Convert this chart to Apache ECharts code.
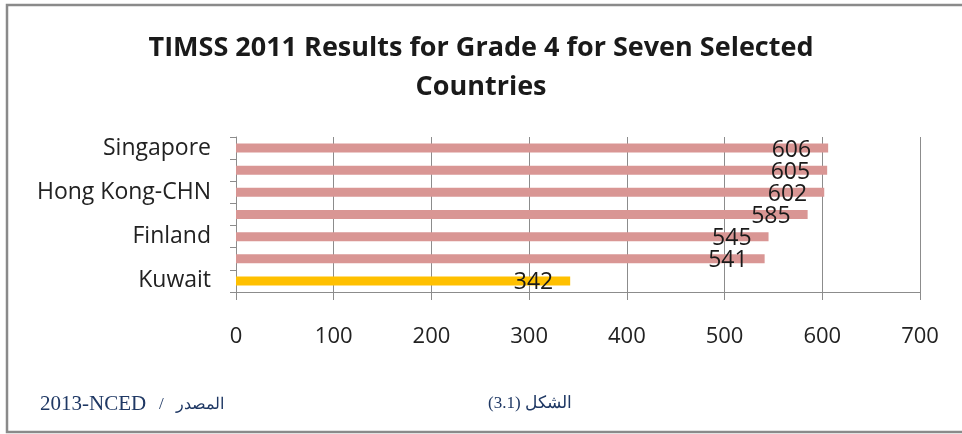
<html>
<head>
<meta charset="utf-8">
<script src="https://cdn.jsdelivr.net/npm/echarts@6/dist/echarts.min.js"></script>
<style>
  body { margin: 0; background: #fff; }
  #container { width: 962px; height: 434px; }
</style>
</head>
<body>
<div id="container"></div>
<script type="text/javascript">
// countries top to bottom, scores as labelled on the bars
var countries = ['Singapore', 'Korea, Rep. of', 'Hong Kong-CHN', 'Japan', 'Finland', 'United States', 'Kuwait'];
var scores = [606, 605, 602, 585, 545, 541, 342];
var highlight = 'Kuwait';
var xTicks = [0, 100, 200, 300, 400, 500, 600, 700];

var font = '"Open Sans", Lato, sans-serif';
var serif = '"Liberation Serif", "DejaVu Serif", serif';
var chart = echarts.init(document.getElementById('container'), null, {renderer: 'canvas'});

var barData = scores.map(function (v, i) {
    return {
        value: v,
        itemStyle: { color: countries[i] == highlight ? '#FFC000' : '#D99694' }
    };
});

var option = {
    animation: false,
    backgroundColor: '#fff',
    title: {
        text: 'TIMSS 2011 Results for Grade 4 for Seven Selected\nCountries',
        left: 'center',
        top: 24,
        textStyle: {
            fontFamily: font,
            fontWeight: 'bold',
            fontSize: 27,
            lineHeight: 39,
            color: '#1a1a1a'
        }
    },
    grid: { left: 236, right: 42, top: 137, bottom: 142, containLabel: false },
    xAxis: {
        type: 'value',
        min: xTicks[0],
        max: xTicks[xTicks.length - 1],
        interval: 100,
        axisLine: { show: true, lineStyle: { color: '#8c8c8c', width: 1 } },
        axisTick: { show: true, length: 8, lineStyle: { color: '#8c8c8c' } },
        splitLine: { show: true, lineStyle: { color: '#8c8c8c', width: 1 } },
        axisLabel: { margin: 34, fontFamily: font, fontSize: 22, color: '#222' }
    },
    yAxis: {
        type: 'category',
        data: countries,
        inverse: true,
        axisLine: { show: true, lineStyle: { color: '#8c8c8c', width: 1 } },
        axisTick: { show: true, interval: 0, length: 6, lineStyle: { color: '#8c8c8c' } },
        axisLabel: { interval: 1, margin: 25, fontFamily: font, fontSize: 23, color: '#222' }
    },
    series: [{
        type: 'bar',
        data: barData,
        barWidth: 9,
        label: {
            show: true,
            position: 'insideRight',
            distance: 17,
            offset: [0, 2],
            fontFamily: font,
            fontSize: 23,
            color: '#1a1a1a'
        }
    }],
    graphic: [
        {
            type: 'rect',
            shape: { x: 7, y: 5, width: 1000, height: 427 },
            style: { fill: null, stroke: '#8a8a8a', lineWidth: 2.5 },
            silent: true
        },
        {
            type: 'text',
            left: 40,
            top: 394,
            style: {
                text: '{a|2013-NCED}{s|   /   }{b|المصدر}',
                fill: '#1F3864',
                rich: {
                    a: { font: '21px ' + serif, fill: '#1F3864' },
                    s: { font: '17px ' + serif, fill: '#1F3864' },
                    b: { font: '16px ' + serif, fill: '#1F3864' }
                }
            }
        },
        {
            type: 'text',
            left: 488,
            top: 395,
            style: {
                text: '(3.1) الشكل',
                font: '17px ' + serif,
                fill: '#1F3864'
            }
        }
    ]
};

chart.setOption(option);
</script>
</body>
</html>
